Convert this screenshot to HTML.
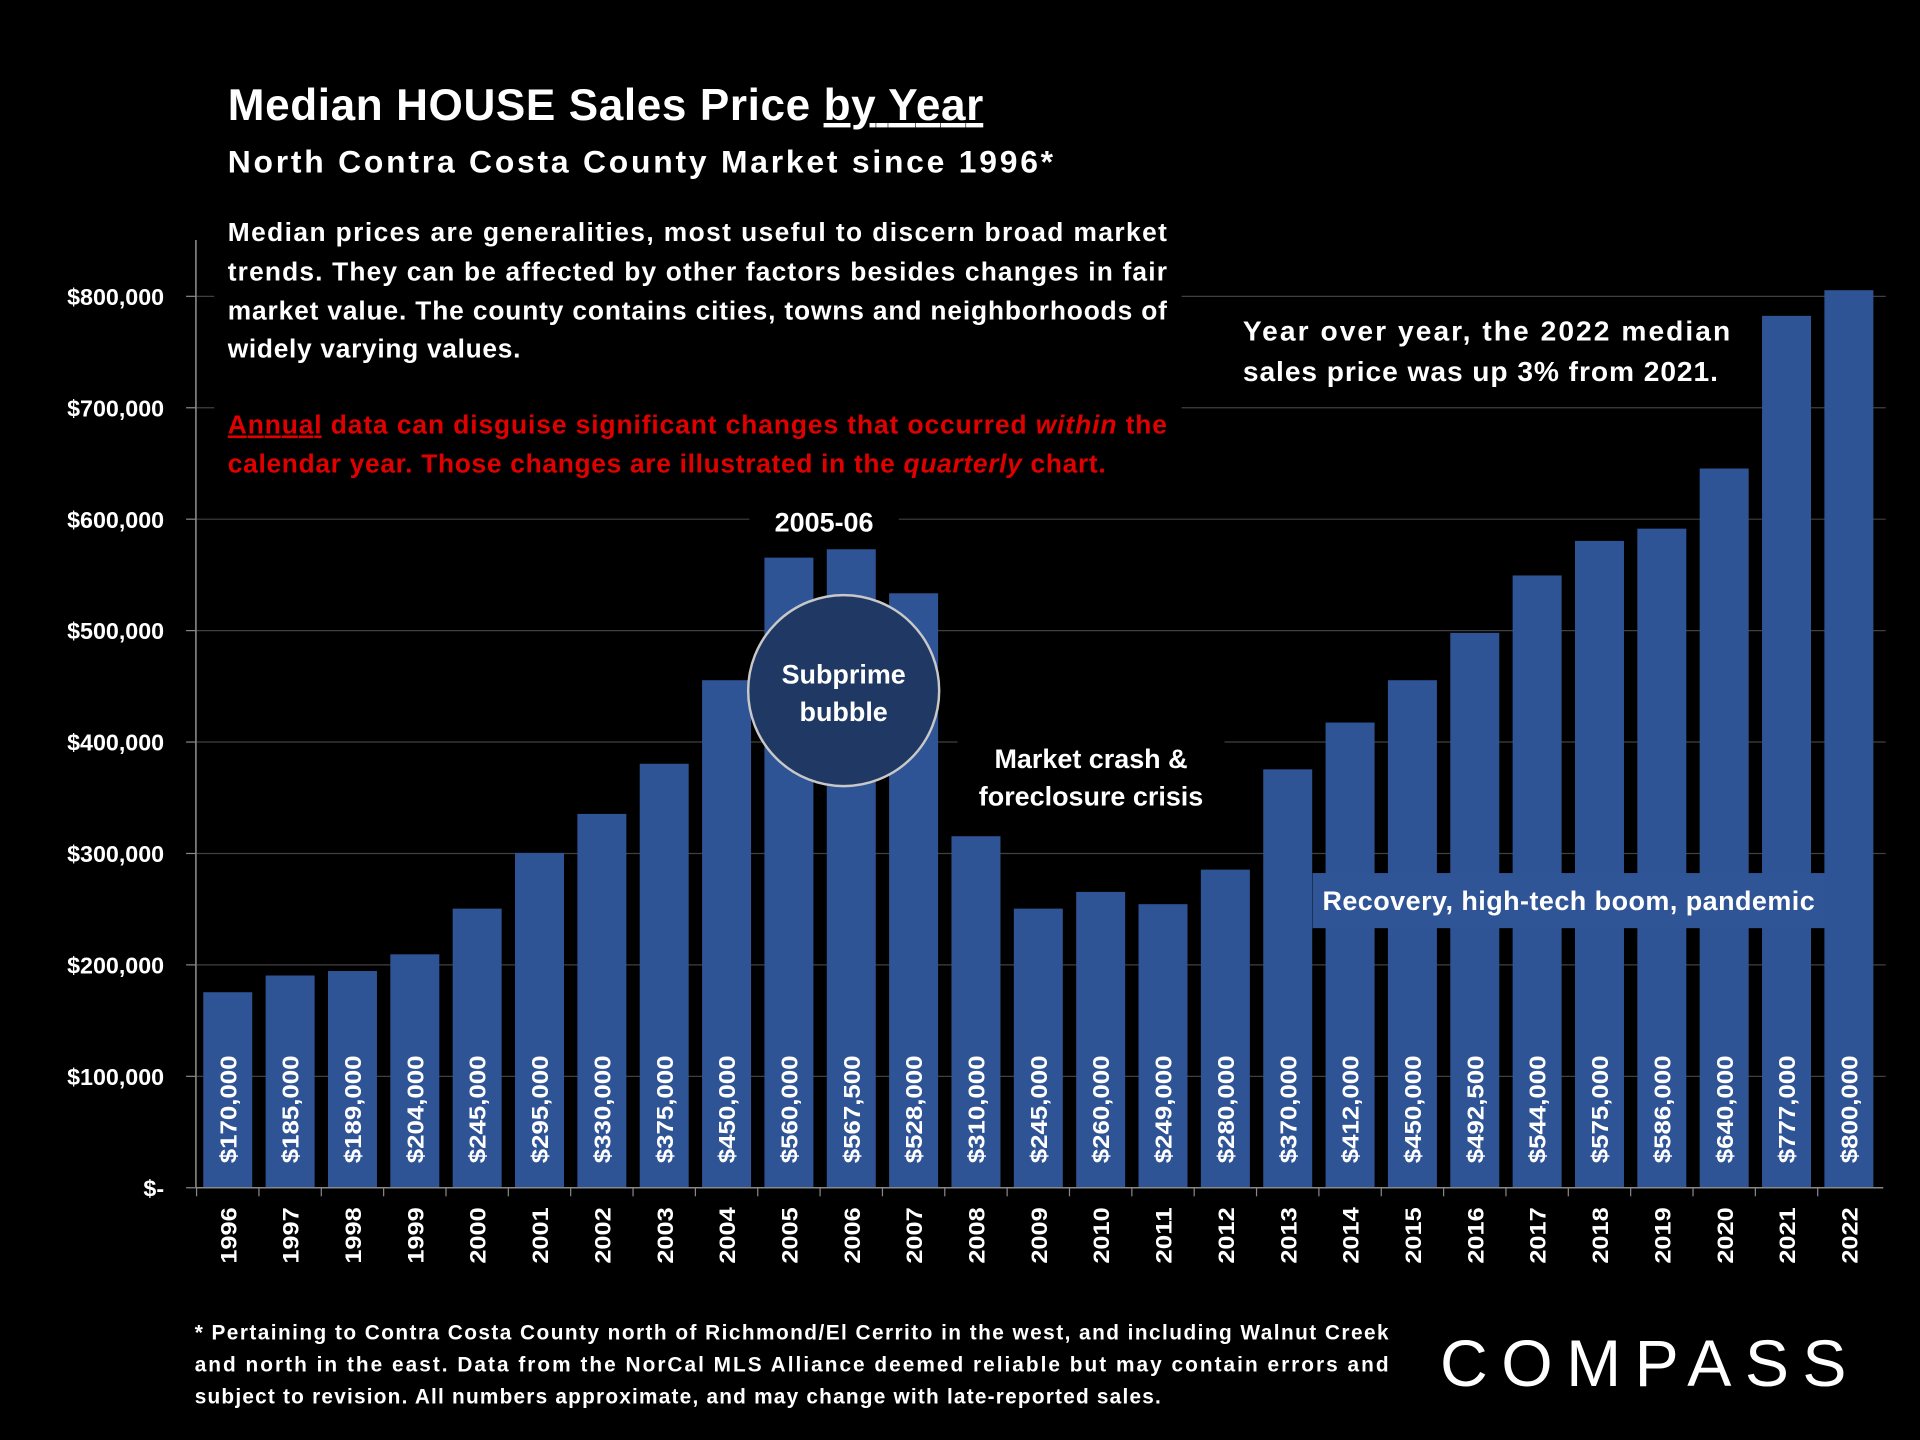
<!DOCTYPE html>
<html><head><meta charset="utf-8"><style>
html,body{margin:0;padding:0;background:#000;}
svg{display:block;font-family:"Liberation Sans",sans-serif;}
</style></head><body>
<svg id="chart" width="1920" height="1440" viewBox="0 0 1568 1176" xmlns="http://www.w3.org/2000/svg">
<rect x="0" y="0" width="1568" height="1176" fill="#000"/>
<g id="grid"></g>
<g id="bars"></g>
<g id="axes"></g>
<text x="186" y="98" fill="#fff" font-size="36" font-weight="bold" textLength="617" lengthAdjust="spacing">Median HOUSE Sales Price <tspan text-decoration="underline">by Year</tspan></text>
<text x="186" y="141" fill="#fff" font-size="26" font-weight="bold" textLength="674" lengthAdjust="spacing">North Contra Costa County Market since 1996*</text>
<rect x="175" y="172" width="790" height="225" fill="#000"/>
<g fill="#fff" font-size="21.5" font-weight="bold">
<text x="186" y="197" textLength="767" lengthAdjust="spacing">Median prices are generalities, most useful to discern broad market</text>
<text x="186" y="229" textLength="767" lengthAdjust="spacing">trends. They can be affected by other factors besides changes in fair</text>
<text x="186" y="261" textLength="767" lengthAdjust="spacing">market value. The county contains cities, towns and neighborhoods of</text>
<text x="186" y="292" textLength="239" lengthAdjust="spacing">widely varying values.</text>
</g>
<g fill="#e00000" font-size="21.5" font-weight="bold">
<text x="186" y="354" textLength="767" lengthAdjust="spacing"><tspan text-decoration="underline">Annual</tspan> data can disguise significant changes that occurred <tspan font-style="italic">within</tspan> the</text>
<text x="186" y="386" textLength="717" lengthAdjust="spacing">calendar year. Those changes are illustrated in the <tspan font-style="italic">quarterly</tspan> chart.</text>
</g>
<rect x="1000" y="250" width="430" height="80" fill="#000"/>
<g fill="#fff" font-size="23" font-weight="bold">
<text x="1015" y="278" textLength="398" lengthAdjust="spacing">Year over year, the 2022 median</text>
<text x="1015" y="311" textLength="388" lengthAdjust="spacing">sales price was up 3% from 2021.</text>
</g>
<rect x="612" y="410" width="122" height="32" fill="#000"/>
<text x="673" y="434" fill="#fff" font-size="22" font-weight="bold" text-anchor="middle">2005-06</text>
<circle cx="689" cy="564" r="78" fill="#1f3864" stroke="#c8c8c8" stroke-width="2"/>
<text x="689" y="558" fill="#fff" font-size="22" font-weight="bold" text-anchor="middle">Subprime</text>
<text x="689" y="589" fill="#fff" font-size="22" font-weight="bold" text-anchor="middle">bubble</text>
<rect x="782" y="600" width="218" height="70" fill="#000"/>
<text x="891" y="627" fill="#fff" font-size="22" font-weight="bold" text-anchor="middle">Market crash &amp;</text>
<text x="891" y="658" fill="#fff" font-size="22" font-weight="bold" text-anchor="middle">foreclosure crisis</text>
<rect x="1072" y="713" width="418" height="45" fill="#2f5597"/>
<text x="1281" y="743" fill="#fff" font-size="22" font-weight="bold" text-anchor="middle" textLength="402" lengthAdjust="spacing">Recovery, high-tech boom, pandemic</text>
<g fill="#fff" font-size="17" font-weight="bold">
<text x="159" y="1094" textLength="975" lengthAdjust="spacing">* Pertaining to Contra Costa County north of Richmond/El Cerrito in the west, and including Walnut Creek</text>
<text x="159" y="1120" textLength="975" lengthAdjust="spacing">and north in the east. Data from the NorCal MLS Alliance deemed reliable but may contain errors and</text>
<text x="159" y="1146" textLength="789" lengthAdjust="spacing">subject to revision. All numbers approximate, and may change with late-reported sales.</text>
</g>
<g>
<text x="1176" y="1132" fill="#fff" font-size="54" textLength="332" lengthAdjust="spacing">COMPASS</text>
</g>
</svg>
<script>
const years=["1996","1997","1998","1999","2000","2001","2002","2003","2004","2005","2006","2007","2008","2009","2010","2011","2012","2013","2014","2015","2016","2017","2018","2019","2020","2021","2022"];
const prices=[170000,185000,189000,204000,245000,295000,330000,375000,450000,560000,567500,528000,310000,245000,260000,249000,280000,370000,412000,450000,492500,544000,575000,586000,640000,777000,800000];
const priceLabels=["$170,000","$185,000","$189,000","$204,000","$245,000","$295,000","$330,000","$375,000","$450,000","$560,000","$567,500","$528,000","$310,000","$245,000","$260,000","$249,000","$280,000","$370,000","$412,000","$450,000","$492,500","$544,000","$575,000","$586,000","$640,000","$777,000","$800,000"];
const yTicks=[0,100000,200000,300000,400000,500000,600000,700000,800000];
const yTickLabels=["$-","$100,000","$200,000","$300,000","$400,000","$500,000","$600,000","$700,000","$800,000"];
const NS="http://www.w3.org/2000/svg";
const y0=970,yPer=728/800000,x0=160,step=50.92,bw=40;
function yScale(v){return y0-v*yPer;}
function xScale(i){return 186+i*step;}
function mk(tag,attrs,parent){const e=document.createElementNS(NS,tag);for(const k in attrs)e.setAttribute(k,attrs[k]);parent.appendChild(e);return e;}
const grid=document.getElementById('grid'),bars=document.getElementById('bars'),axes=document.getElementById('axes');
yTicks.forEach((t,i)=>{
  const y=yScale(t);
  if(t>0){const l=mk('line',{x1:x0,x2:1540,y1:y,y2:y,stroke:'#404040','stroke-width':1},grid);
  
  }
  const tk=mk('line',{x1:x0-8,x2:x0,y1:y,y2:y,stroke:'#888','stroke-width':1},axes);
  
  
  const tx=mk('text',{x:134,y:y+7,fill:'#fff','font-size':19,'font-weight':'bold','text-anchor':'end'},axes);
  tx.textContent=yTickLabels[i];
  
  
});
const ax=mk('line',{x1:x0,x2:x0,y1:196,y2:y0,stroke:'#888','stroke-width':1.3},axes);


const xa=mk('line',{x1:x0,x2:1538,y1:y0,y2:y0,stroke:'#888','stroke-width':1.3},axes);


years.forEach((yr,i)=>{
  const cx=xScale(i),top=yScale(prices[i])-5;
  const r=mk('rect',{x:cx-bw/2,y:top,width:bw,height:y0-top,fill:'#2f5496'},bars);
  
  
  const vt=mk('text',{x:0,y:0,fill:'#fff','font-size':19,'font-weight':'bold',transform:`translate(${cx+7},950) rotate(-90)`,textLength:88,lengthAdjust:'spacingAndGlyphs'},bars);
  vt.textContent=priceLabels[i];
  
  
  const tk=mk('line',{x1:cx-step/2,x2:cx-step/2,y1:y0,y2:y0+7,stroke:'#888'},axes);
  
  
  const yt=mk('text',{x:0,y:0,fill:'#fff','font-size':18,'font-weight':'bold',transform:`translate(${cx+7},1032) rotate(-90)`,textLength:46,lengthAdjust:'spacingAndGlyphs'},axes);
  yt.textContent=yr;
  
  
});
</script>
</body></html>
